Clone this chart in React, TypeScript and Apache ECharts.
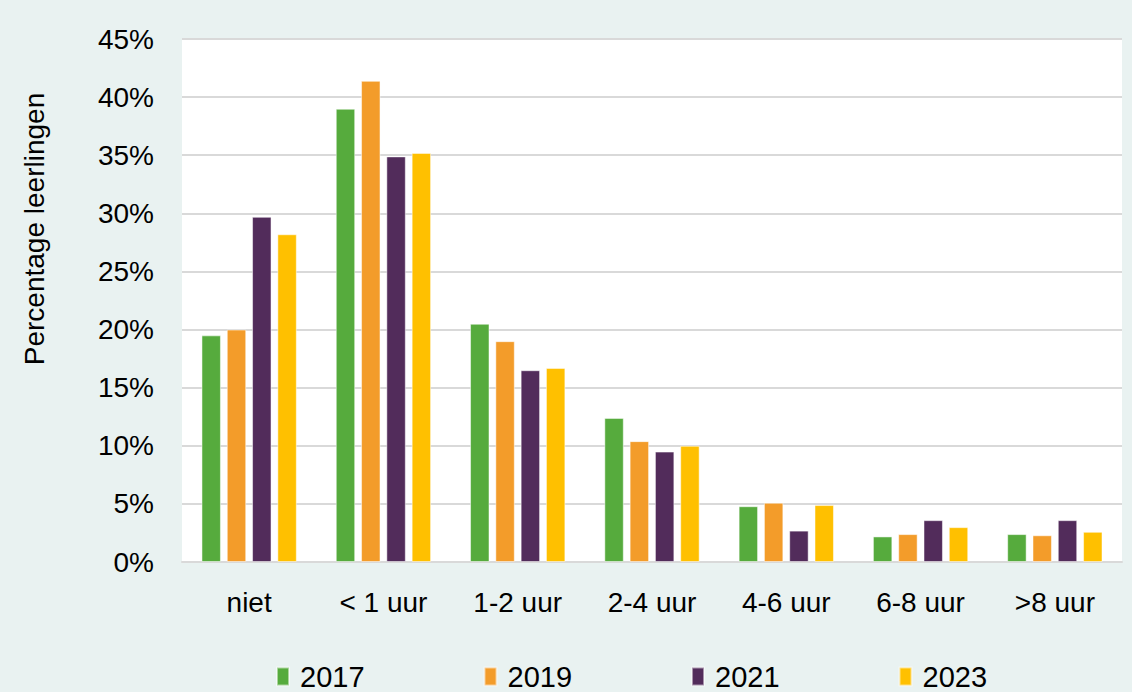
import React, { useEffect, useRef } from "react";
import * as echarts from "echarts";

const categories = ["niet", "< 1 uur", "1-2 uur", "2-4 uur", "4-6 uur", "6-8 uur", ">8 uur"];
const years = ["2017", "2019", "2021", "2023"];
const values2017 = [19.5, 39.0, 20.5, 12.4, 4.8, 2.2, 2.4];
const values2019 = [20.0, 41.4, 19.0, 10.4, 5.1, 2.4, 2.3];
const values2021 = [29.7, 34.9, 16.5, 9.5, 2.7, 3.6, 3.6];
const values2023 = [28.2, 35.2, 16.7, 10.0, 4.9, 3.0, 2.6];
const yTicks = [0, 5, 10, 15, 20, 25, 30, 35, 40, 45];
const colors = ["#56AB3D", "#F39C2A", "#522C5B", "#FFC000"];
const yAxisTitle = "Percentage leerlingen";

export default function App() {
  const ref = useRef<HTMLDivElement>(null);
  useEffect(() => {
    if (!ref.current) return;
    const chart = echarts.init(ref.current, null, { renderer: "svg" });
    const seriesData = [values2017, values2019, values2021, values2023];
    const font = "Liberation Sans, Arial, sans-serif";
    chart.setOption({
      animation: false,
      backgroundColor: "#E9F2F1",
      textStyle: { fontFamily: font },
      grid: {
        left: 182,
        right: 10,
        top: 39,
        bottom: 130,
        show: true,
        backgroundColor: "#FFFFFF",
        borderWidth: 0,
      },
      legend: {
        data: years,
        left: 276,
        top: 662,
        padding: 0,
        itemWidth: 12,
        itemHeight: 18,
        itemGap: 119,
        icon: "rect",
        textStyle: {
          fontSize: 29,
          lineHeight: 29,
          color: "#000",
          fontFamily: font,
          padding: [0, 0, 0, 6],
        },
      },
      xAxis: {
        type: "category",
        data: categories,
        axisLine: { show: true, lineStyle: { color: "#D9D9D9", width: 2 } },
        axisTick: { show: false },
        axisLabel: { fontSize: 28, color: "#000", margin: 26, fontFamily: font },
      },
      yAxis: {
        type: "value",
        min: yTicks[0],
        max: yTicks[yTicks.length - 1],
        interval: 5,
        axisLine: { show: false },
        axisTick: { show: false },
        splitLine: { lineStyle: { color: "#D9D9D9", width: 2 } },
        axisLabel: {
          fontSize: 28,
          color: "#000",
          margin: 28,
          fontFamily: font,
          formatter: (v: number) => `${v}%`,
        },
      },
      graphic: [
        {
          type: "text",
          x: 34,
          y: 229,
          rotation: Math.PI / 2,
          style: {
            text: yAxisTitle,
            fontSize: 28,
            fill: "#000",
            fontFamily: font,
            align: "center",
            verticalAlign: "middle",
          },
        },
      ],
      series: years.map((y, i) => ({
        name: y,
        type: "bar",
        data: seriesData[i],
        barGap: "30%",
        barCategoryGap: "29%",
        itemStyle: { color: colors[i], borderColor: "rgba(255,255,255,0.5)", borderWidth: 1 },
      })),
    });
    return () => chart.dispose();
  }, []);
  return <div ref={ref} style={{ position: "fixed", left: 0, top: 0, width: 1132, height: 692 }} />;
}
